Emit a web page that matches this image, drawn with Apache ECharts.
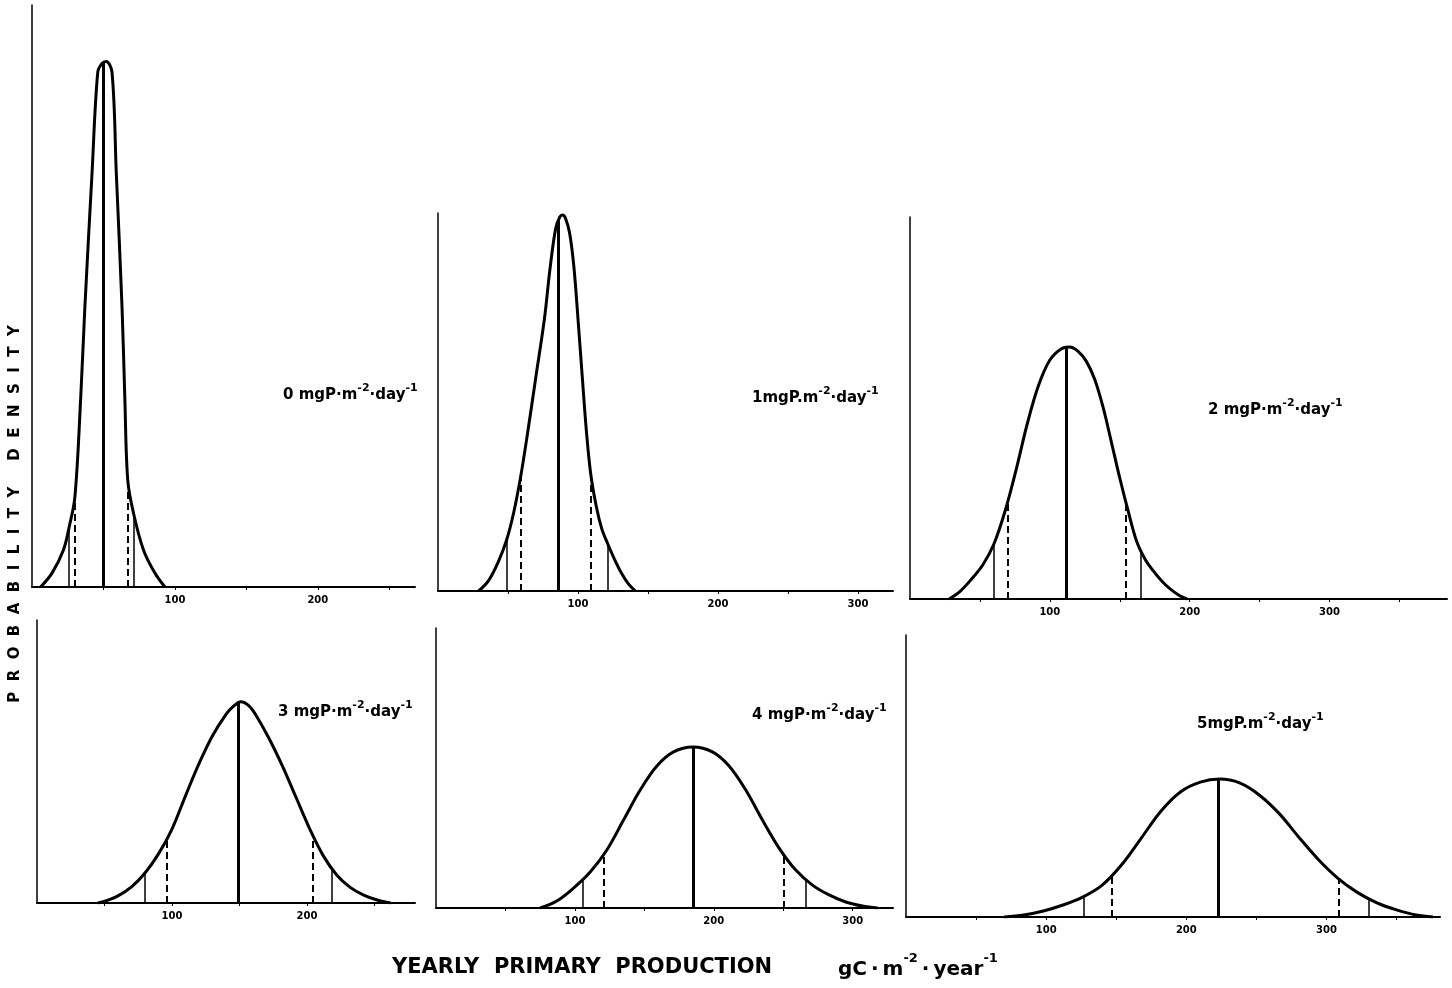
<!DOCTYPE html>
<html>
<head>
<meta charset="utf-8" />
<title>Yearly primary production</title>
<script src="https://cdn.jsdelivr.net/npm/echarts@6.0.0/dist/echarts.min.js"></script>
<style>
  body { margin: 0; background: #fff; }
  #chart { width: 1452px; height: 988px; }
</style>
</head>
<body>
<div id="chart"></div>
<script type="text/javascript">
  // yearly primary production (gC m-2 year-1) vs probability density (x 1e-3), one pair per P loading
  var prod0 = [6, 14, 22, 26, 30, 34, 37, 42, 46, 49, 52, 56, 59, 63, 65, 67, 71, 78, 86, 93];
  var dens0 = [0, 0.65, 1.73, 2.80, 4.20, 8.73, 13.08, 19.33, 24.05, 24.47, 24.56, 24.05, 19.33, 13.08, 8.73, 5.00, 3.46, 1.73, 0.65, 0];

  var prod1 = [29, 36, 43, 49, 54, 59, 64, 70, 76, 80, 84, 87, 89, 91, 94, 97, 100, 103, 106, 109, 113, 117, 121, 126, 131, 136, 141];
  var dens1 = [0, 0.47, 1.35, 2.38, 3.64, 5.32, 7.38, 10.04, 12.70, 15.04, 16.91, 17.47, 17.56, 17.42, 16.72, 15.18, 12.70, 10.04, 7.47, 5.51, 3.97, 2.90, 2.24, 1.49, 0.84, 0.33, 0];

  var prod2 = [28, 36, 44, 52, 60, 68, 76, 84, 92, 100, 108, 114, 120, 126, 132, 138, 144, 150, 156, 162, 168, 174, 180, 186, 192, 198];
  var dens2 = [0, 0.37, 0.93, 1.59, 2.57, 4.11, 6.07, 8.22, 9.99, 11.16, 11.68, 11.77, 11.58, 11.11, 10.27, 8.97, 7.33, 5.65, 4.11, 2.71, 1.87, 1.31, 0.84, 0.47, 0.19, 0];

  var prod3 = [45, 52, 60, 70, 80, 90, 100, 110, 120, 130, 140, 145, 151, 157, 162, 172, 182, 192, 202, 212, 222, 232, 242, 252, 262];
  var dens3 = [0, 0.12, 0.33, 0.75, 1.40, 2.29, 3.45, 5.00, 6.50, 7.80, 8.80, 9.15, 9.39, 9.20, 8.78, 7.66, 6.36, 4.91, 3.46, 2.21, 1.31, 0.73, 0.37, 0.14, 0];

  var prod4 = [75, 87, 99, 111, 123, 135, 147, 159, 171, 185, 199, 211, 223, 235, 247, 259, 271, 283, 295, 307, 318];
  var dens4 = [0, 0.33, 0.93, 1.68, 2.71, 4.11, 5.51, 6.63, 7.29, 7.52, 7.29, 6.63, 5.51, 4.11, 2.80, 1.77, 1.07, 0.61, 0.28, 0.09, 0];

  var prod5 = [70, 84, 98, 112, 126, 140, 154, 168, 182, 196, 210, 224, 238, 252, 266, 280, 294, 308, 322, 336, 350, 364, 376];
  var dens5 = [0, 0.09, 0.28, 0.56, 0.93, 1.49, 2.45, 3.70, 4.95, 5.85, 6.30, 6.44, 6.26, 5.70, 4.85, 3.75, 2.70, 1.82, 1.15, 0.66, 0.33, 0.09, 0];

  // vertical marker lines (thin = outer, dashed = inner, thick = centre)
  var p05 = [26, 49, 60, 80, 106, 127];
  var p05Dens = [2.80, 2.38, 2.57, 1.40, 1.35, 0.96];
  var p10 = [30, 59, 70, 96, 121, 147];
  var p10Dens = [4.20, 5.32, 4.55, 2.97, 2.52, 1.95];
  var med = [50, 86, 112, 149, 185, 223];
  var medDens = [24.5, 17.3, 11.75, 9.39, 7.52, 6.44];
  var p90 = [67, 109, 154, 204, 250, 309];
  var p90Dens = [5.00, 5.51, 4.62, 3.20, 2.55, 1.77];
  var p95 = [71, 121, 165, 218, 266, 330];
  var p95Dens = [3.46, 2.24, 2.29, 1.67, 1.35, 0.87];

  var loadLabels = [
    '{b|0 mgP·m}{s|-2}{b|·day}{s|-1}',
    '{b|1mgP.m}{s|-2}{b|·day}{s|-1}',
    '{b|2 mgP·m}{s|-2}{b|·day}{s|-1}',
    '{b|3 mgP·m}{s|-2}{b|·day}{s|-1}',
    '{b|4 mgP·m}{s|-2}{b|·day}{s|-1}',
    '{b|5mgP.m}{s|-2}{b|·day}{s|-1}'
  ];
  var xTicks = [100, 200, 300];

  var prods = [prod0, prod1, prod2, prod3, prod4, prod5];
  var denss = [dens0, dens1, dens2, dens3, dens4, dens5];

  // layout of the six panels
  var rects = [
    [32, 5, 383, 582], [438, 213, 455, 378], [910, 217, 537, 382],
    [37, 620, 378, 283], [436, 628, 457, 280], [906, 635, 534, 282]
  ];
  var xMax = [268, 325, 384, 280, 329, 381];
  var yMax = [27.2, 17.65, 17.84, 13.2, 13.08, 13.17];
  var labelPos = [[283, 383], [752, 386], [1208, 398], [278, 700], [752, 703], [1197, 712]];

  var FONT = 'DejaVu Sans';
  var thin = { color: '#000', width: 1.5, type: 'solid' };
  var dashed = { color: '#000', width: 2, type: [7, 4] };
  var thick = { color: '#000', width: 3, type: 'solid' };

  function seg(x, d, style) {
    return [{ coord: [x, 0], lineStyle: style }, { coord: [x, d] }];
  }

  var grids = [], xAxes = [], yAxes = [], series = [], titles = [];
  var supRich = {
    b: { fontFamily: FONT, fontWeight: 'bold', fontSize: 15, color: '#000', lineHeight: 20, verticalAlign: 'bottom' },
    s: { fontFamily: FONT, fontWeight: 'bold', fontSize: 11, color: '#000', lineHeight: 11, verticalAlign: 'top' }
  };

  for (var i = 0; i < 6; i++) {
    var r = rects[i];
    grids.push({ left: r[0], top: r[1], width: r[2], height: r[3], containLabel: false });
    xAxes.push({
      type: 'value', gridIndex: i, min: 0, max: xMax[i], interval: 50,
      axisLine: { show: true, lineStyle: { color: '#000', width: 2 } },
      axisTick: { show: true, length: 3, lineStyle: { color: '#000', width: 1 } },
      splitLine: { show: false },
      axisLabel: {
        color: '#000', fontFamily: FONT, fontWeight: 'bold', fontSize: 10, margin: 8,
        showMinLabel: false, showMaxLabel: false,
        formatter: function (v) { return xTicks.indexOf(v) >= 0 ? String(v) : ''; }
      }
    });
    yAxes.push({
      type: 'value', gridIndex: i, min: 0, max: yMax[i],
      axisLine: { show: true, lineStyle: { color: '#000', width: 1.5 } },
      axisTick: { show: false }, axisLabel: { show: false }, splitLine: { show: false }
    });
    var pts = prods[i].map(function (x, k) { return [x, denss[i][k]]; });
    series.push({
      type: 'line', xAxisIndex: i, yAxisIndex: i, data: pts,
      smooth: 0.35, showSymbol: false, silent: true,
      lineStyle: { color: '#000', width: 3 },
      markLine: {
        symbol: 'none', silent: true, animation: false, label: { show: false },
        data: [
          seg(p05[i], p05Dens[i], thin),
          seg(p10[i], p10Dens[i], dashed),
          seg(med[i], medDens[i], thick),
          seg(p90[i], p90Dens[i], dashed),
          seg(p95[i], p95Dens[i], thin)
        ]
      }
    });
    titles.push({
      text: loadLabels[i], left: labelPos[i][0], top: labelPos[i][1], padding: 0,
      textStyle: { rich: supRich }
    });
  }

  titles.push({
    text: '{t|YEARLY  PRIMARY  PRODUCTION}', left: 392, top: 954, padding: 0,
    textStyle: { rich: { t: { fontFamily: FONT, fontWeight: 'bold', fontSize: 21, color: '#000', lineHeight: 27 } } }
  });
  titles.push({
    text: '{u|gC\u2009·\u2009m}{s|-2}{u|\u2009·\u2009year}{s|-1}', left: 838, top: 952, padding: 0,
    textStyle: {
      rich: {
        u: { fontFamily: FONT, fontWeight: 'bold', fontSize: 20, color: '#000', lineHeight: 28, verticalAlign: 'bottom' },
        s: { fontFamily: FONT, fontWeight: 'bold', fontSize: 13, color: '#000', lineHeight: 13, verticalAlign: 'top' }
      }
    }
  });

  var yName = ['PROBABILITY', 'DENSITY'].map(function (w) {
    return w.split('').join('  ');
  }).join('     ');

  var chart = echarts.init(document.getElementById('chart'));
  chart.setOption({
    backgroundColor: '#fff',
    animation: false,
    title: titles,
    grid: grids,
    xAxis: xAxes,
    yAxis: yAxes,
    series: series,
    graphic: [{
      type: 'text', x: 15, y: 514, rotation: Math.PI / 2,
      style: {
        text: yName, fill: '#000', font: 'bold 15px "DejaVu Sans"',
        textAlign: 'center', textVerticalAlign: 'middle'
      }
    }]
  });
</script>
</body>
</html>
